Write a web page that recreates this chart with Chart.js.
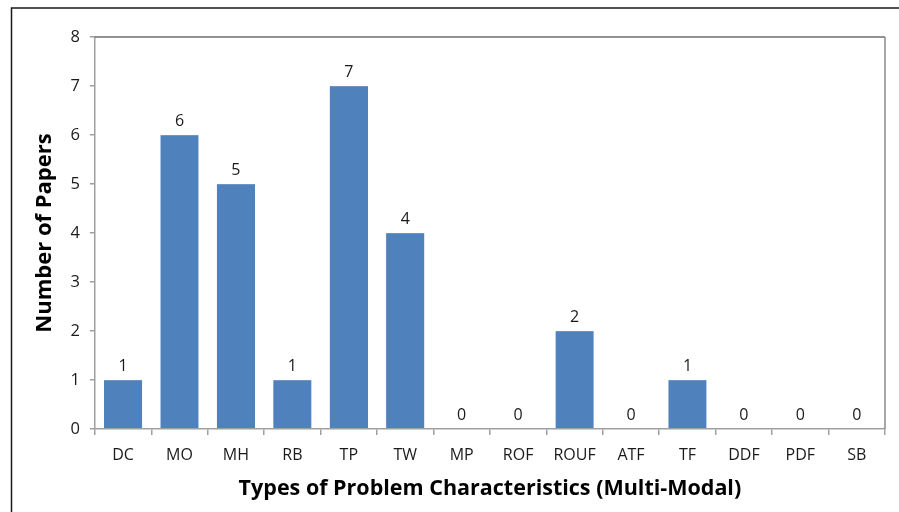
<!DOCTYPE html>
<html>
<head>
<meta charset="utf-8">
<script src="https://cdn.jsdelivr.net/npm/chart.js@4.4.1/dist/chart.umd.min.js"></script>
<style>
  html, body { margin: 0; padding: 0; background: #fff; }
  #wrap { width: 899px; height: 512px; }
</style>
</head>
<body>
<div id="wrap"><canvas id="chart" width="899" height="512"></canvas></div>
<script>
const categories = ['DC', 'MO', 'MH', 'RB', 'TP', 'TW', 'MP', 'ROF', 'ROUF', 'ATF', 'TF', 'DDF', 'PDF', 'SB'];
const paperCounts = [1, 6, 5, 1, 7, 4, 0, 0, 2, 0, 1, 0, 0, 0];
const yTicks = [0, 1, 2, 3, 4, 5, 6, 7, 8];

const fontFamily = "'Open Sans', 'Liberation Sans', sans-serif";

// frame around the picture, plot border and the value labels
const extras = {
    id: 'extras',
    beforeDraw(chart) {
        const ctx = chart.ctx;
        ctx.save();
        ctx.strokeStyle = '#1a1a1a';
        ctx.lineWidth = 1.5;
        ctx.beginPath();
        ctx.moveTo(11.5, 512);
        ctx.lineTo(11.5, 8);
        ctx.lineTo(899, 8);
        ctx.stroke();
        ctx.restore();
    },
    afterDraw(chart) {
        const ctx = chart.ctx;
        const a = chart.chartArea;
        ctx.save();
        ctx.lineWidth = 1.5;
        ctx.strokeStyle = '#6e6e6e';
        ctx.beginPath();
        ctx.moveTo(a.left, a.top);
        ctx.lineTo(a.right, a.top);
        ctx.stroke();
        ctx.strokeStyle = '#8a8a8a';
        ctx.beginPath();
        ctx.moveTo(a.right, a.top);
        ctx.lineTo(a.right, a.bottom);
        ctx.stroke();

        ctx.fillStyle = '#1a1a1a';
        ctx.font = '16px ' + fontFamily;
        ctx.textAlign = 'center';
        ctx.textBaseline = 'bottom';
        const meta = chart.getDatasetMeta(0);
        meta.data.forEach((bar, i) => {
            ctx.fillText(String(paperCounts[i]), bar.x, bar.y - 6);
        });
        ctx.restore();
    }
};

new Chart(document.getElementById('chart'), {
    type: 'bar',
    data: {
        labels: categories,
        datasets: [{
            data: paperCounts,
            backgroundColor: '#4f81bd',
            borderColor: '#6f93c4',
            borderWidth: { top: 1, left: 0, right: 0, bottom: 0 },
            barPercentage: 0.68,
            categoryPercentage: 1.0
        }]
    },
    options: {
        responsive: false,
        animation: false,
        layout: { padding: { left: 32, top: 37, right: 14, bottom: 10 } },
        plugins: { legend: { display: false }, tooltip: { enabled: false } },
        scales: {
            x: {
                grid: { display: true, offset: true, drawOnChartArea: false, color: '#a0a0a0', tickLength: 6, lineWidth: 1.5 },
                border: { color: '#a0a0a0', width: 1.5 },
                ticks: { color: '#1a1a1a', font: { family: fontFamily, size: 16 }, padding: 11, maxRotation: 0, autoSkip: false },
                title: {
                    display: true,
                    text: 'Types of Problem Characteristics (Multi-Modal)',
                    color: '#000',
                    font: { family: fontFamily, size: 21.5, weight: 'bold' },
                    padding: { top: 0, bottom: 0 }
                }
            },
            y: {
                min: 0,
                max: 8,
                afterBuildTicks: (scale) => { scale.ticks = yTicks.map(v => ({ value: v })); },
                grid: { display: true, drawOnChartArea: false, color: '#a0a0a0', tickLength: 5, lineWidth: 1.5 },
                border: { color: '#a0a0a0', width: 1.5 },
                ticks: { color: '#1a1a1a', font: { family: fontFamily, size: 16.5 }, padding: 10 },
                title: {
                    display: true,
                    text: 'Number of Papers',
                    color: '#000',
                    font: { family: fontFamily, size: 22, weight: 'bold' },
                    padding: { top: 0, bottom: 2 }
                }
            }
        }
    },
    plugins: [extras]
});
</script>
</body>
</html>
